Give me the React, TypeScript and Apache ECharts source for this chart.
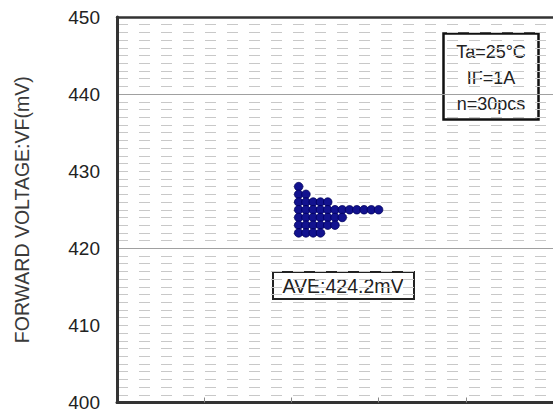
import React, { useEffect, useRef } from "react";
import * as echarts from "echarts";

// Y axis (forward voltage, mV)
const yMin = 400;
const yMax = 450;
const yTickStep = 10;
// X axis is only a counting axis for the stacked dots
const xMin = 0;
const xMax = 60;
const xTickStep = 12;

// Dot rows: each measured voltage and how many parts share it
const rowValues = [428, 427, 426, 425, 424, 423, 422];
const rowCounts = [1, 2, 5, 12, 7, 6, 4];
const firstColumn = 25;

const conditionLines = ["Ta=25°C", "IF=1A", "n=30pcs"];
const aveLabel = "AVE:424.2mV";
const yAxisName = "FORWARD VOLTAGE:VF(mV)";

const FONT = "'Liberation Sans', Arial, sans-serif";

export default function App() {
  const ref = useRef<HTMLDivElement>(null);
  useEffect(() => {
    const chart = echarts.init(ref.current!, null, { renderer: "svg" });
    const points: number[][] = [];
    rowValues.forEach((v, i) => {
      for (let k = 0; k < rowCounts[i]; k++) points.push([firstColumn + k, v]);
    });
    chart.setOption({
      animation: false,
      backgroundColor: "#ffffff",
      grid: { left: 117, top: 17, right: -2, bottom: 9, containLabel: false },
      xAxis: [
        {
          type: "value",
          min: xMin,
          max: xMax,
          interval: xTickStep,
          position: "bottom",
          axisLine: { show: true, lineStyle: { color: "#333", width: 3 } },
          axisTick: { show: true, inside: true, length: 5, lineStyle: { color: "#888", width: 1 } },
          axisLabel: { show: false },
          splitLine: { show: false },
        },
        {
          type: "value",
          min: xMin,
          max: xMax,
          interval: xTickStep,
          position: "top",
          axisLine: { show: true, lineStyle: { color: "#333", width: 2.5 } },
          axisTick: { show: false },
          axisLabel: { show: false },
          splitLine: { show: false },
        },
      ],
      yAxis: [
        {
          type: "value",
          min: yMin,
          max: yMax,
          interval: yTickStep,
          position: "left",
          name: yAxisName,
          nameLocation: "middle",
          nameGap: 85,
          nameRotate: 90,
          nameTextStyle: { fontFamily: FONT, fontSize: 19.5, color: "#3a3a3a" },
          axisLine: { show: true, lineStyle: { color: "#333", width: 3 } },
          axisTick: { show: false },
          axisLabel: { fontFamily: FONT, fontSize: 19, color: "#222", margin: 17 },
          splitLine: { show: false },
          z: 5,
        },
        {
          type: "value",
          min: yMin,
          max: yMax,
          interval: 1,
          position: "left",
          axisLine: { show: false },
          axisTick: { show: false },
          axisLabel: { show: false },
          splitLine: { show: true, lineStyle: { color: "#c8c8c8", width: 1, type: [11, 11] } },
        },
        {
          type: "value",
          min: yMin,
          max: yMax,
          interval: 20,
          position: "left",
          axisLine: { show: false },
          axisTick: { show: false },
          axisLabel: { show: false },
          splitLine: { show: true, lineStyle: { color: "#a0a0a0", width: 1, type: "solid" } },
        },
      ],
      series: [
        {
          type: "scatter",
          xAxisIndex: 0,
          yAxisIndex: 0,
          symbol: "circle",
          symbolSize: 8.5,
          itemStyle: { color: "#12128f", borderColor: "#00005c", borderWidth: 0.8, opacity: 1 },
          data: points,
          z: 3,
        },
      ],
      graphic: [
        {
          type: "group",
          children: [
            {
              type: "rect",
              shape: { x: 443.5, y: 33.5, width: 95, height: 86 },
              style: { fill: "#fff", stroke: "#111", lineWidth: 2.5 },
            },
            ...conditionLines.map((t, i) => ({
              type: "text",
              x: 491,
              y: 52 + i * 26,
              style: {
                text: t,
                fontFamily: FONT,
                fontSize: 18,
                fill: "#222",
                align: "center",
                verticalAlign: "middle",
              },
            })),
            {
              type: "rect",
              shape: { x: 273, y: 272, width: 141, height: 27 },
              style: { fill: "#fff", stroke: "#222", lineWidth: 2 },
            },
            {
              type: "text",
              x: 343,
              y: 286,
              style: {
                text: aveLabel,
                fontFamily: FONT,
                fontSize: 19.5,
                fill: "#222",
                align: "center",
                verticalAlign: "middle",
              },
            },
          ],
        },
      ],
    });
    return () => chart.dispose();
  }, []);
  return (
    <div
      ref={ref}
      style={{ position: "fixed", left: 0, top: 0, width: 553, height: 412, background: "#fff" }}
    />
  );
}
